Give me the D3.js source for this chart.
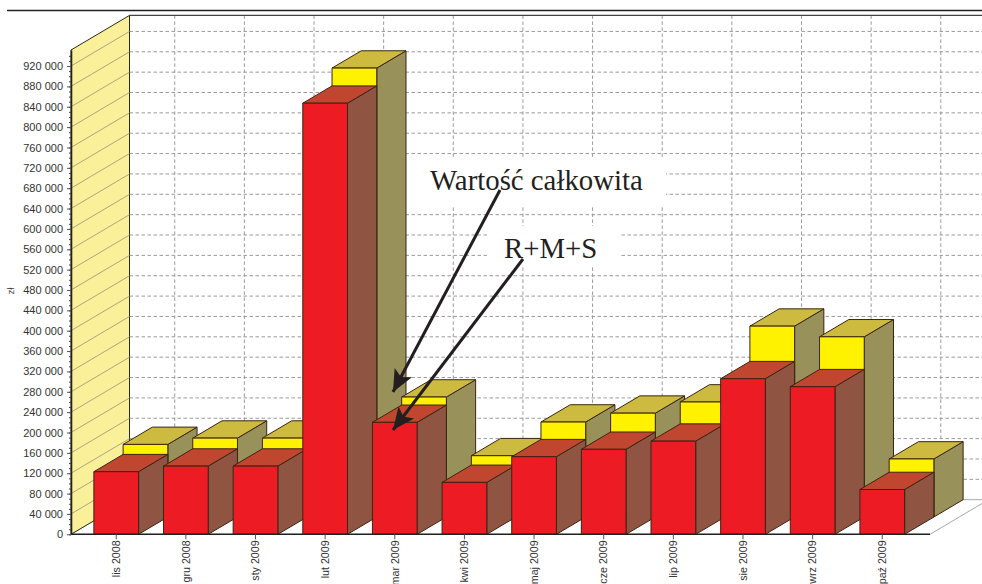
<!DOCTYPE html>
<html>
<head>
<meta charset="utf-8">
<script src="https://cdn.jsdelivr.net/npm/d3@7"></script>
<style>
  html, body { margin: 0; padding: 0; background: #fff; overflow: hidden; }
  svg { display: block; }
  text { font-family: "Liberation Sans", Arial, sans-serif; fill: #333; }
  .note { font-family: "Liberation Serif", "Times New Roman", serif; fill: #231f20; }
</style>
</head>
<body>
<svg width="982" height="584"></svg>
<script>
var months = ["lis 2008", "gru 2008", "sty 2009", "lut 2009", "mar 2009", "kwi 2009",
              "maj 2009", "cze 2009", "lip 2009", "sie 2009", "wrz 2009", "paź 2009"];
var rms = [123000, 134000, 134000, 847000, 220000, 102000, 152500, 167000, 183000, 305700, 290000, 88000];
var total = [142600, 155000, 155000, 882000, 235700, 120400, 186600, 204000, 226000, 375000, 354000, 114000];
var yTicks = d3.range(0, 960000, 40000);
var minorTicks = d3.range(0, 950000, 10000);

var svg = d3.select("svg");
var depthX = 58.5, depthY = -34.6; // whole floor depth, each row takes half of it

var x = d3.scaleBand().domain(months).range([81.4, 917.1]).paddingInner(0.358).paddingOuter(0.179);
var y = d3.scaleLinear().domain([0, 951500]).range([534.3, 50]);
var x0 = 71, xEnd = 930, xRight = 982;

function poly(pts) { return "M" + pts.map(function(p) { return p.join(","); }).join("L") + "Z"; }

// top rule
svg.append("line").attr("x1", 7).attr("x2", xRight).attr("y1", 10.5).attr("y2", 10.5)
    .attr("stroke", "#222").attr("stroke-width", 1.5);

// back wall grid
var back = svg.append("g").attr("stroke", "#9a9a9a").attr("stroke-dasharray", "3.5,2.5");
back.selectAll("line.h").data(yTicks.slice(1)).enter().append("line").attr("class", "h")
    .attr("x1", x0 + depthX).attr("x2", xRight)
    .attr("y1", function(d) { return y(d) + depthY; })
    .attr("y2", function(d) { return y(d) + depthY; });
back.selectAll("line.v").data(months).enter().append("line").attr("class", "v")
    .attr("x1", function(d) { return x(d) + x.bandwidth() / 2 + depthX; })
    .attr("x2", function(d) { return x(d) + x.bandwidth() / 2 + depthX; })
    .attr("y1", y.range()[1] + depthY).attr("y2", y(0) + depthY);
svg.append("line").attr("x1", x0 + depthX).attr("x2", xRight)
    .attr("y1", y.range()[1] + depthY).attr("y2", y.range()[1] + depthY)
    .attr("stroke", "#444").attr("stroke-width", 1.2);

// floor
svg.append("path").attr("fill", "#fff").attr("stroke", "#a8a8a8")
    .attr("d", poly([[x0, y(0)], [x0 + depthX, y(0) + depthY], [xEnd + depthX, y(0) + depthY], [xEnd, y(0)]]));

// side wall
svg.append("path").attr("fill", "#fbf09a").attr("stroke", "#2a2a1c").attr("stroke-width", 1)
    .attr("d", poly([[x0, y(0)], [x0 + depthX, y(0) + depthY], [x0 + depthX, y.range()[1] + depthY], [x0, y.range()[1]]]));
svg.append("g").attr("stroke", "#aea67a").selectAll("line").data(yTicks.slice(1)).enter().append("line")
    .attr("x1", x0).attr("x2", x0 + depthX)
    .attr("y1", function(d) { return y(d); })
    .attr("y2", function(d) { return y(d) + depthY; });

// note backgrounds hide the grid
svg.append("rect").attr("x", 405).attr("y", 157).attr("width", 261).attr("height", 50).attr("fill", "#fff");
svg.append("rect").attr("x", 487).attr("y", 226).attr("width", 133).attr("height", 40).attr("fill", "#fff");

function box(g, left, w, top, base, dx, dy, colors) {
  g.append("path").attr("fill", colors[2]).attr("d", poly([[left + w, base], [left + w + dx, base + dy], [left + w + dx, top + dy], [left + w, top]]));
  g.append("path").attr("fill", colors[1]).attr("d", poly([[left, top], [left + dx, top + dy], [left + w + dx, top + dy], [left + w, top]]));
  g.append("rect").attr("x", left).attr("y", top).attr("width", w).attr("height", base - top).attr("fill", colors[0]);
}

var yellowColors = ["#fff200", "#cdbb3f", "#99915a"];
var redColors = ["#ed1c24", "#c1462f", "#8f5542"];

var bars = svg.selectAll("g.bar").data(months).enter().append("g").attr("class", "bar")
    .attr("stroke", "#3a2415").attr("stroke-width", 1).attr("stroke-linejoin", "round");
bars.each(function(d, i) {
  var g = d3.select(this);
  // back row: total value, front row: R+M+S
  box(g, x(d) + depthX / 2, x.bandwidth(), y(total[i]) + depthY / 2, y(0) + depthY / 2, depthX / 2, depthY / 2, yellowColors);
  box(g, x(d), x.bandwidth(), y(rms[i]), y(0), depthX / 2, depthY / 2, redColors);
});

// axes
var fmt = function(d) { return d3.format(",")(d).replace(/,/g, " "); };
var gMinor = svg.append("g").attr("transform", "translate(" + x0 + ",0)")
    .call(d3.axisLeft(y).tickValues(minorTicks).tickSize(2).tickFormat(""));
gMinor.selectAll("line").attr("stroke", "#444");
gMinor.select(".domain").remove();

var gy = svg.append("g").attr("transform", "translate(" + x0 + ",0)")
    .call(d3.axisLeft(y).tickValues(yTicks).tickSize(4).tickSizeOuter(0).tickPadding(4).tickFormat(fmt));
gy.select(".domain").attr("stroke", "#222").attr("stroke-width", 1.6);
gy.selectAll("line").attr("stroke", "#555");
gy.selectAll("text").style("font-family", '"Liberation Sans", Arial, sans-serif').style("font-size", "11px").attr("fill", "#333");

var gx = svg.append("g").attr("transform", "translate(0," + y(0) + ")")
    .call(d3.axisBottom(x).tickSize(5).tickSizeOuter(0));
gx.select(".domain").attr("d", "M" + x0 + ",0H" + xEnd).attr("stroke", "#222").attr("stroke-width", 1.6);
gx.selectAll("line").attr("stroke", "#555");
gx.selectAll("text")
    .attr("transform", "rotate(-90)")
    .attr("text-anchor", "end").attr("x", -6).attr("y", 0).attr("dy", "0.35em")
    .style("font-family", '"Liberation Sans", Arial, sans-serif').style("font-size", "10.7px").attr("fill", "#333");

svg.append("text").attr("transform", "translate(14,291) rotate(-90)").attr("text-anchor", "middle")
    .style("font-size", "9.5px").text("zł");

// annotations
svg.append("text").attr("class", "note").attr("x", 430).attr("y", 190).style("font-size", "28.8px").text("Wartość całkowita");
svg.append("text").attr("class", "note").attr("x", 504).attr("y", 258).style("font-size", "28.8px").text("R+M+S");

svg.append("defs").append("marker").attr("id", "arrow").attr("markerUnits", "userSpaceOnUse")
    .attr("markerWidth", 22).attr("markerHeight", 22).attr("refX", 18).attr("refY", 8).attr("orient", "auto")
    .attr("viewBox", "0 0 18 16")
    .append("path").attr("d", "M0,0L18,8L0,16L4,8Z").attr("fill", "#231f20");

var arrows = [[500, 190, 393, 392], [523, 259, 393, 430]];
svg.selectAll("line.arrow").data(arrows).enter().append("line").attr("class", "arrow")
    .attr("x1", function(d) { return d[0]; }).attr("y1", function(d) { return d[1]; })
    .attr("x2", function(d) { return d[2]; }).attr("y2", function(d) { return d[3]; })
    .attr("stroke", "#231f20").attr("stroke-width", 3).attr("marker-end", "url(#arrow)");
</script>
</body>
</html>
